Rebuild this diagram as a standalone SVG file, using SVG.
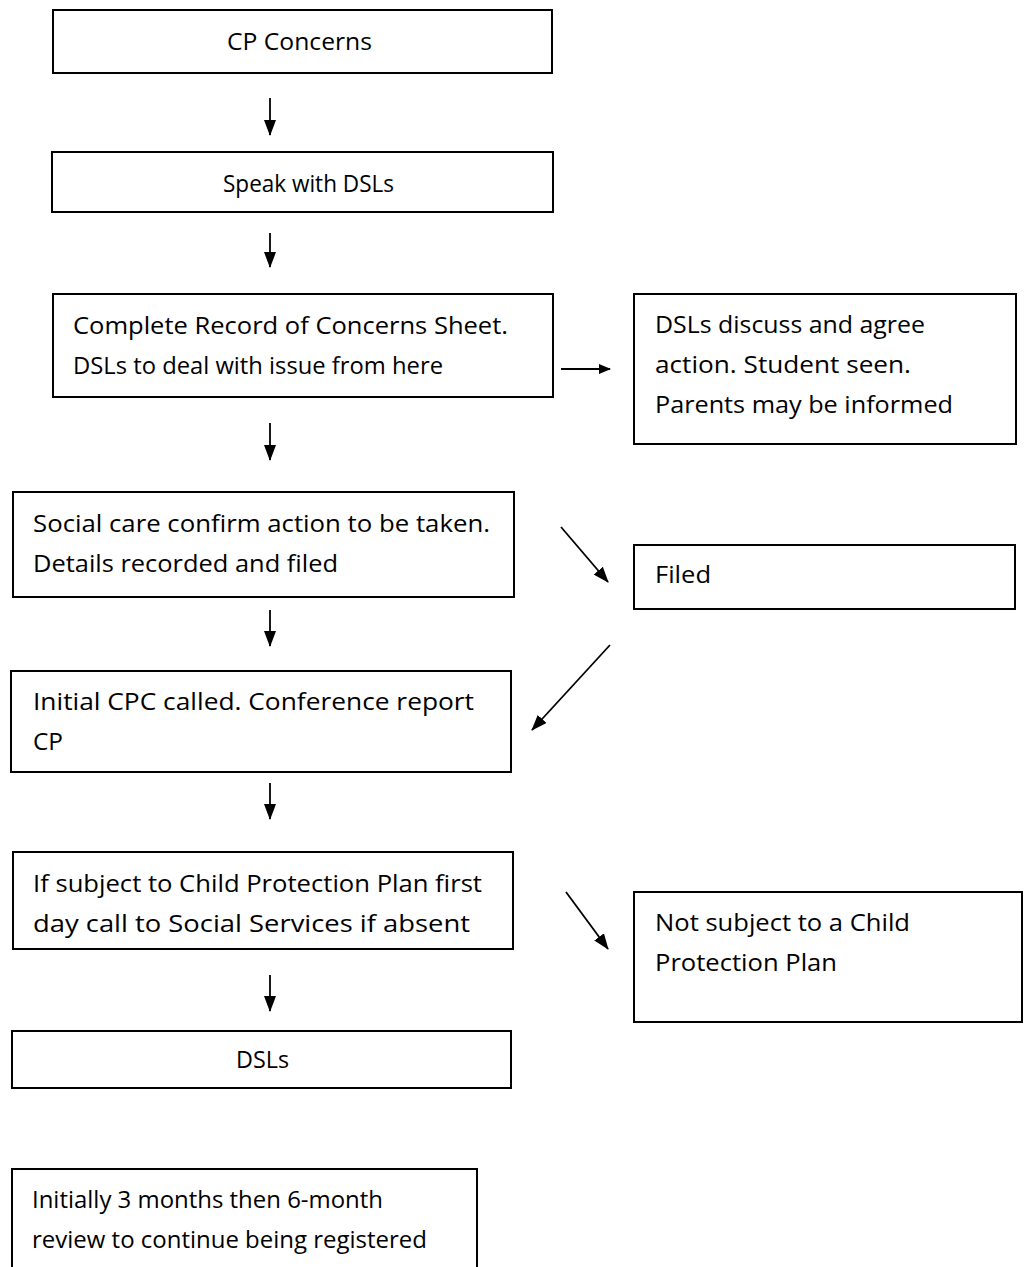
<svg xmlns="http://www.w3.org/2000/svg" width="1029" height="1267" viewBox="0 0 1029 1267">
<style>
.box{fill:#fff;stroke:#000;stroke-width:2}
.t{font-family:"Open Sans","Liberation Sans",sans-serif;font-size:24px;fill:#000}
.c{text-anchor:middle}
.con line{stroke:#000;stroke-width:1.8}
</style>
<defs>
<marker id="ah" viewBox="0 0 12 10" refX="11" refY="5" markerWidth="12" markerHeight="10" markerUnits="userSpaceOnUse" orient="auto">
<path d="M0,0 L12,5 L0,10 z" fill="#000"/>
</marker>
<marker id="ahL" viewBox="0 0 16 12" refX="15" refY="6" markerWidth="16" markerHeight="12" markerUnits="userSpaceOnUse" orient="auto">
<path d="M0,0 L16,6 L0,12 z" fill="#000"/>
</marker>
</defs>
<rect width="1029" height="1267" fill="#fff"/>
<g id="n1"><rect class="box" x="53" y="10" width="499" height="63"/><text class="t" x="227" y="50" textLength="145" lengthAdjust="spacingAndGlyphs">CP Concerns</text></g>
<g id="n2"><rect class="box" x="52" y="152" width="501" height="60"/><text class="t" x="223" y="192" textLength="171" lengthAdjust="spacingAndGlyphs">Speak with DSLs</text></g>
<g id="n3"><rect class="box" x="53" y="294" width="500" height="103"/><text class="t" x="73" y="334" textLength="435" lengthAdjust="spacingAndGlyphs">Complete Record of Concerns Sheet.</text><text class="t" x="73" y="374" textLength="370" lengthAdjust="spacingAndGlyphs">DSLs to deal with issue from here</text></g>
<g id="n4"><rect class="box" x="634" y="294" width="382" height="150"/><text class="t" x="655" y="333" textLength="270" lengthAdjust="spacingAndGlyphs">DSLs discuss and agree</text><text class="t" x="655" y="373" textLength="256" lengthAdjust="spacingAndGlyphs">action. Student seen.</text><text class="t" x="655" y="413" textLength="298" lengthAdjust="spacingAndGlyphs">Parents may be informed</text></g>
<g id="n5"><rect class="box" x="13" y="492" width="501" height="105"/><text class="t" x="33" y="532" textLength="457" lengthAdjust="spacingAndGlyphs">Social care confirm action to be taken.</text><text class="t" x="33" y="572" textLength="305" lengthAdjust="spacingAndGlyphs">Details recorded and filed</text></g>
<g id="n6"><rect class="box" x="634" y="545" width="381" height="64"/><text class="t" x="655" y="583" textLength="56" lengthAdjust="spacingAndGlyphs">Filed</text></g>
<g id="n7"><rect class="box" x="11" y="671" width="500" height="101"/><text class="t" x="33" y="710" textLength="441" lengthAdjust="spacingAndGlyphs">Initial CPC called. Conference report</text><text class="t" x="33" y="750" textLength="30" lengthAdjust="spacingAndGlyphs">CP</text></g>
<g id="n8"><rect class="box" x="13" y="852" width="500" height="97"/><text class="t" x="33" y="892" textLength="449" lengthAdjust="spacingAndGlyphs">If subject to Child Protection Plan first</text><text class="t" x="33" y="932" textLength="437" lengthAdjust="spacingAndGlyphs">day call to Social Services if absent</text></g>
<g id="n9"><rect class="box" x="634" y="892" width="388" height="130"/><text class="t" x="655" y="931" textLength="255" lengthAdjust="spacingAndGlyphs">Not subject to a Child</text><text class="t" x="655" y="971" textLength="182" lengthAdjust="spacingAndGlyphs">Protection Plan</text></g>
<g id="n10"><rect class="box" x="12" y="1031" width="499" height="57"/><text class="t" x="236" y="1068" textLength="53" lengthAdjust="spacingAndGlyphs">DSLs</text></g>
<g id="n11"><rect class="box" x="12" y="1169" width="465" height="110"/><text class="t" x="32" y="1208" textLength="351" lengthAdjust="spacingAndGlyphs">Initially 3 months then 6-month</text><text class="t" x="32" y="1248" textLength="395" lengthAdjust="spacingAndGlyphs">review to continue being registered</text></g>
<g id="connectors" class="con">
<line x1="270" y1="98" x2="270" y2="135" marker-end="url(#ahL)"/>
<line x1="270" y1="233" x2="270" y2="267" marker-end="url(#ahL)"/>
<line x1="561" y1="369" x2="610" y2="369" marker-end="url(#ah)"/>
<line x1="270" y1="423" x2="270" y2="460" marker-end="url(#ahL)"/>
<line x1="561" y1="527" x2="608" y2="582" marker-end="url(#ahL)"/>
<line x1="270" y1="610" x2="270" y2="646" marker-end="url(#ahL)"/>
<line x1="610" y1="645" x2="532" y2="730" marker-end="url(#ahL)"/>
<line x1="270" y1="783" x2="270" y2="819" marker-end="url(#ahL)"/>
<line x1="566" y1="892" x2="608" y2="949" marker-end="url(#ahL)"/>
<line x1="270" y1="975" x2="270" y2="1011" marker-end="url(#ahL)"/>
</g>
</svg>
